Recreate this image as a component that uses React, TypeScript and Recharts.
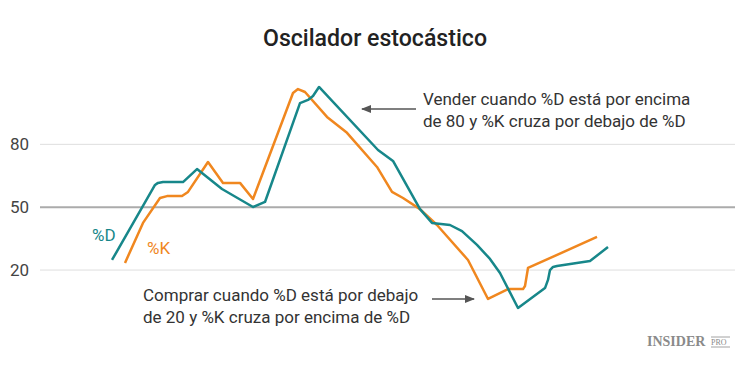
import React from "react";
import { LineChart, Line, XAxis, YAxis, CartesianGrid, ReferenceLine } from "recharts";

// %D (teal) series: period index and value
const dPeriods = [14.4, 23, 23.6, 24.6, 28.6, 31.4, 36.4, 42.6, 45, 52, 53.6, 54.6, 55.8, 67.6, 70.6, 76, 78.4, 82, 84.4, 87.4, 90, 92, 95.6, 101, 101.6, 102, 102.6, 103.4, 110, 113.6];
const dValues = [24.8, 60.6, 61.6, 62.0, 62.0, 68.2, 58.7, 50.1, 52.5, 99.7, 101.2, 103.1, 107.4, 77.3, 72.1, 49.1, 42.5, 41.5, 38.6, 32.0, 25.3, 18.6, 1.9, 11.4, 15.3, 20.0, 21.5, 21.9, 24.3, 31.0];

// %K (orange) series
const kPeriods = [17, 20.6, 24, 25.4, 28.4, 29.6, 33.6, 36.6, 40, 42.6, 50.6, 51.6, 53, 57.4, 61.4, 67.4, 70.4, 72.6, 76, 79.4, 85.6, 89.6, 93.6, 96.6, 97, 97.6, 111.4];
const kValues = [23.4, 42.5, 54.4, 55.3, 55.3, 57.3, 71.6, 61.6, 61.6, 53.9, 104.5, 106.4, 105.0, 93.1, 85.5, 69.2, 57.3, 54.4, 49.1, 41.5, 24.8, 6.2, 10.9, 10.9, 12.4, 21.0, 35.8];

const yTicks = [20, 50, 80];
const gridValues = [20, 80];
const midLevel = 50;

const dData = dPeriods.map((t, i) => ({ t, v: dValues[i] }));
const kData = kPeriods.map((t, i) => ({ t, v: kValues[i] }));

const TEAL = "#17878a";
const ORANGE = "#f0871f";
const FONT = "Roboto, 'Noto Sans', sans-serif";

export default function App() {
  return (
    <div style={{ position: "absolute", left: 0, top: 0, width: 750, height: 365, background: "#fff" }}>
      <LineChart width={750} height={365} margin={{ top: 81.5, right: 15, bottom: 32.1, left: 0 }}>
        <CartesianGrid vertical={false} horizontalValues={gridValues} stroke="#dedede" strokeWidth={1} />
        <XAxis type="number" dataKey="t" domain={[0, 139]} hide allowDuplicatedCategory={false} />
        <YAxis
          type="number"
          dataKey="v"
          domain={[-10, 110]}
          ticks={yTicks}
          width={40}
          axisLine={false}
          tickLine={false}
          tickSize={0}
          tickMargin={11}
          tick={{ fill: "#444", fontSize: 17, fontFamily: FONT }}
        />
        <ReferenceLine y={midLevel} stroke="#ababab" strokeWidth={2} />
        <Line data={kData} dataKey="v" type="linear" stroke={ORANGE} strokeWidth={2.5} dot={false} isAnimationActive={false} strokeLinejoin="round" />
        <Line data={dData} dataKey="v" type="linear" stroke={TEAL} strokeWidth={2.5} dot={false} isAnimationActive={false} strokeLinejoin="round" />
      </LineChart>
      <svg width={750} height={365} style={{ position: "absolute", left: 0, top: 0, pointerEvents: "none" }}>
        <defs>
          <marker id="ah" markerWidth="10" markerHeight="8" refX="9" refY="4" orient="auto" markerUnits="userSpaceOnUse">
            <path d="M0,0 L10,4 L0,8 Z" fill="#555" />
          </marker>
        </defs>
        <text x={375} y={46} textAnchor="middle" fontFamily={FONT} fontWeight={500} fontSize={24} fill="#222" textLength={224} lengthAdjust="spacingAndGlyphs">
          Oscilador estocástico
        </text>
        <text fontFamily={FONT} fontSize={17} fill="#333">
          <tspan x={423} y={105}>Vender cuando %D está por encima</tspan>
          <tspan x={423} y={127}>de 80 y %K cruza por debajo de %D</tspan>
        </text>
        <text fontFamily={FONT} fontSize={17} fill="#333">
          <tspan x={143} y={301}>Comprar cuando %D está por debajo</tspan>
          <tspan x={143} y={323}>de 20 y %K cruza por encima de %D</tspan>
        </text>
        <line x1={416} y1={109} x2={362} y2={109} stroke="#555" strokeWidth={1.5} markerEnd="url(#ah)" />
        <line x1={432} y1={299} x2={474} y2={299} stroke="#555" strokeWidth={1.5} markerEnd="url(#ah)" />
        <text x={92} y={241} fontFamily={FONT} fontSize={17} fill={TEAL}>%D</text>
        <text x={147} y={254} fontFamily={FONT} fontSize={17} fill={ORANGE}>%K</text>
        <text x={647} y={346} fontFamily="'Liberation Serif', 'DejaVu Serif', serif" fontWeight={700} fontSize={14} fill="#8a8a8a">INSIDER</text>
        <line x1={711} y1={337} x2={730} y2={337} stroke="#8a8a8a" strokeWidth={0.8} />
        <text x={711} y={345} fontFamily="'Liberation Serif', 'DejaVu Serif', serif" fontSize={8} fill="#8a8a8a">PRO</text>
        <line x1={711} y1={347} x2={730} y2={347} stroke="#8a8a8a" strokeWidth={0.8} />
      </svg>
    </div>
  );
}
